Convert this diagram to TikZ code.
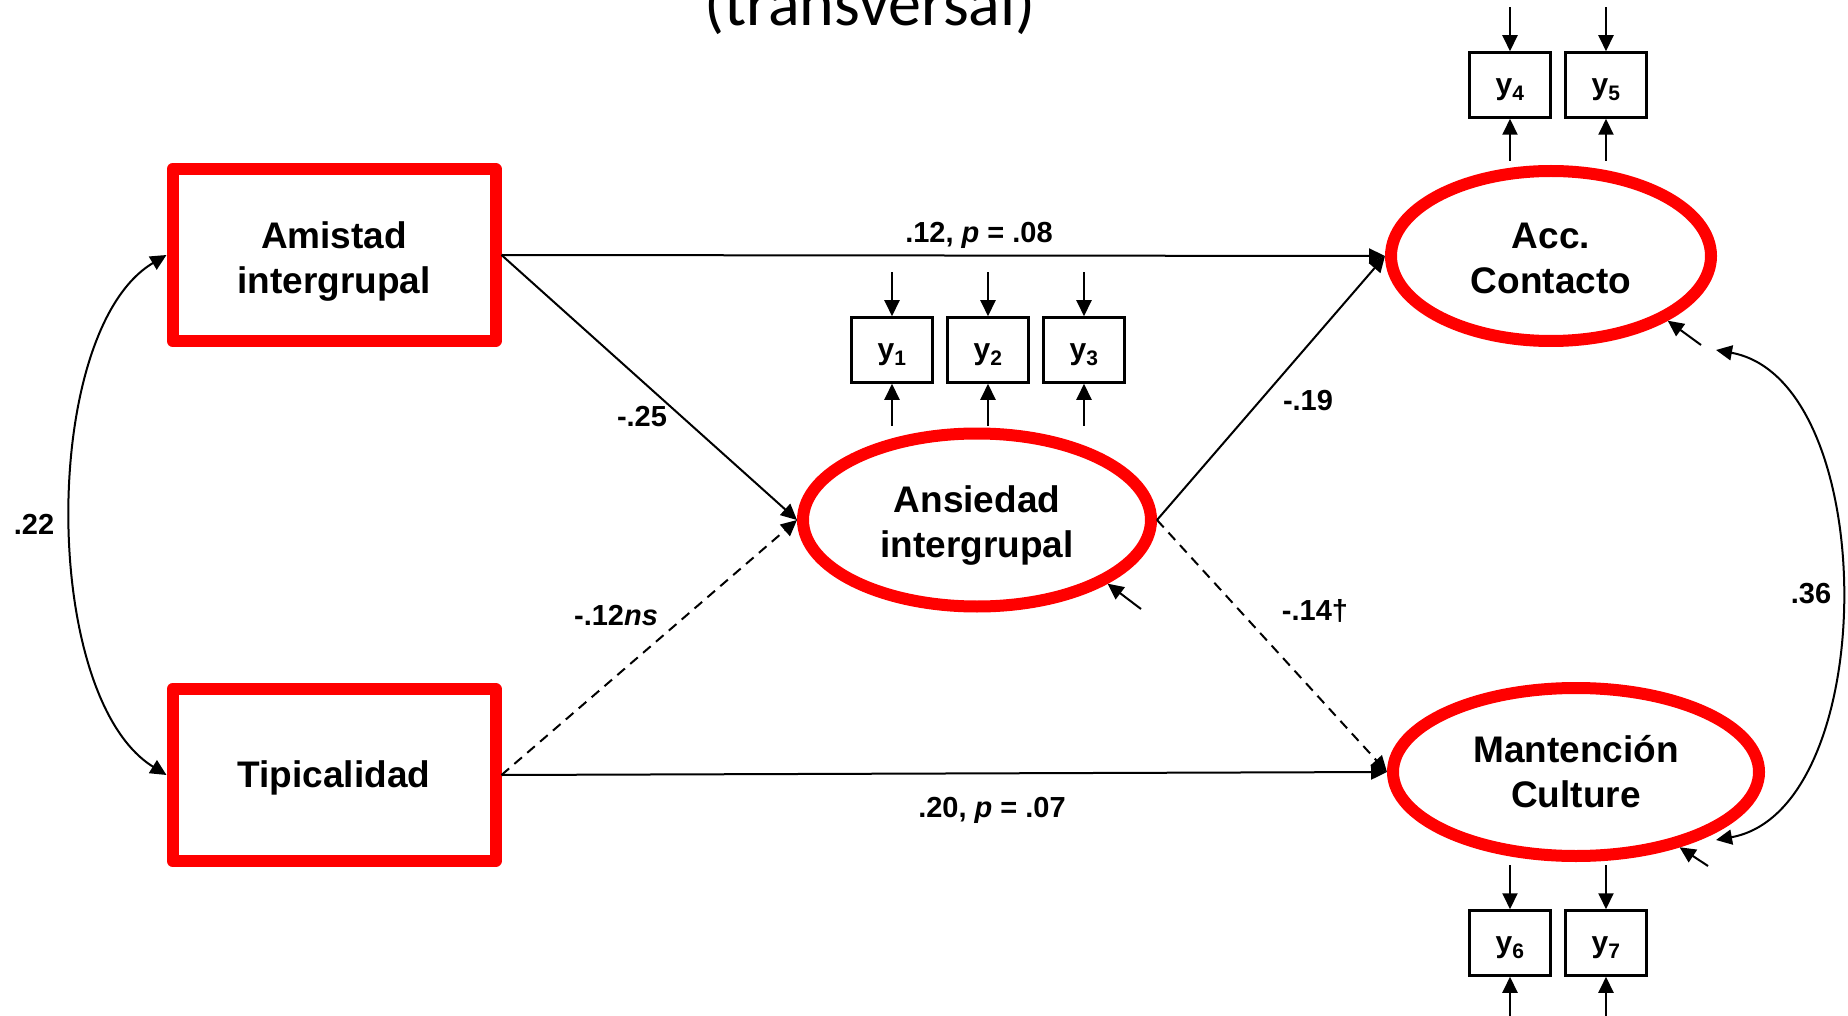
\documentclass[tikz,border=0pt]{standalone}
\usepackage{fontspec}
\setmainfont{Liberation Sans}
\newfontfamily\titlefont{Carlito}
\usetikzlibrary{arrows.meta,shapes.geometric}

\begin{document}
\begin{tikzpicture}[x=1pt,y=-1pt,
    >={Triangle[length=16pt,width=15pt]},
    lift/.style={execute at begin node={\rule{0pt}{#1}}},
    observed/.style={draw=red, line width=12pt, line join=round, minimum width=323pt, minimum height=172pt, align=center, font=\fontsize{37}{45}\selectfont\bfseries},
    latent/.style={ellipse, draw=red, line width=12pt, align=center, font=\fontsize{37}{45}\selectfont\bfseries},
    indicator/.style={draw, line width=2.5pt, minimum width=81pt, minimum height=65pt, inner sep=0pt, lift=26pt, font=\fontsize{30}{36}\selectfont\bfseries},
    coef/.style={anchor=base, font=\fontsize{29}{34}\selectfont\bfseries},
    link/.style={->, line width=2pt},
    nslink/.style={link, dash pattern=on 10pt off 7pt}]

    \useasboundingbox (0,0) rectangle (1848,1016);

    \node[anchor=base, font=\titlefont\fontsize{66}{70}\selectfont] (title) at (870,26) {(transversal)};

    % exogenous variables
    \node[observed, lift=84pt] (amistad) at (334,255) {Amistad\\intergrupal};
    \node[observed, lift=32pt] (tipicalidad) at (334,775) {Tipicalidad};

    % latent variables
    \node[latent, lift=82pt, minimum width=348pt, minimum height=173pt] (ansiedad) at (977,520) {Ansiedad\\intergrupal};
    \node[latent, lift=76pt, minimum width=320pt, minimum height=170pt] (acc) at (1551,256) {Acc.\\Contacto};
    \node[latent, minimum width=366pt, minimum height=168pt] (mantencion) at (1576,772) {Mantención\\Culture};

    % indicators
    \node[indicator] (y1) at (892,350) {y\textsubscript{1}};
    \node[indicator] (y2) at (988,350) {y\textsubscript{2}};
    \node[indicator] (y3) at (1084,350) {y\textsubscript{3}};
    \node[indicator] (y4) at (1510,85) {y\textsubscript{4}};
    \node[indicator] (y5) at (1606,85) {y\textsubscript{5}};
    \node[indicator] (y6) at (1510,943) {y\textsubscript{6}};
    \node[indicator] (y7) at (1606,943) {y\textsubscript{7}};

    \foreach \ind in {y1,y2,y3,y4,y5,y6,y7} {
        \draw[link] (\ind.north) ++(0,-44) -- (\ind.north);
        \draw[link] (\ind.south) ++(0,42) -- (\ind.south);
    }

    % structural paths
    \draw[link] (amistad.east) -- (acc.west);
    \draw[link] (amistad.east) -- (ansiedad.west);
    \draw[nslink] (tipicalidad.east) -- (ansiedad.west);
    \draw[link] (tipicalidad.east) -- (mantencion.west);
    \draw[link] (ansiedad.east) -- (acc.west);
    \draw[nslink] (ansiedad.east) -- (mantencion.west);

    % residuals
    \coordinate (res1) at (1141,609);
    \coordinate (res2) at (1701,345);
    \coordinate (res3) at (1708,866);
    \draw[link] (res1) -- (ansiedad.-26);
    \draw[link] (res2) -- (acc.-29);
    \draw[link] (res3) -- (mantencion.-36);

    % covariances
    \draw[<->, line width=2pt] (amistad.west) .. controls (40,330) and (40,697) .. (tipicalidad.west);
    \coordinate (cov1) at (1716,350);
    \coordinate (cov2) at (1716,840);
    \draw[<->, line width=2pt] (cov1) .. controls (1882,380) and (1882,810) .. (cov2);

    % coefficients
    \node[coef] (c1) at (979,243) {.12, \textit{p} = .08};
    \node[coef] (c2) at (992,817) {.20, \textit{p} = .07};
    \node[coef] (c3) at (642,426) {-.25};
    \node[coef] (c4) at (616,625) {-.12\textit{ns}};
    \node[coef] (c5) at (1308,410) {-.19};
    \node[coef] (c6) at (1315,620) {-.14†};
    \node[coef] (c7) at (34,534) {.22};
    \node[coef] (c8) at (1811,603) {.36};

\end{tikzpicture}
\end{document}
